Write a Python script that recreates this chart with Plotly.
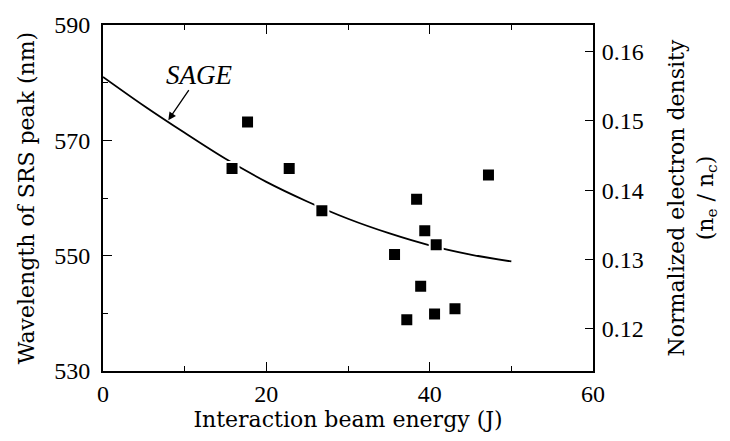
import plotly.graph_objects as go

# Measured data: interaction beam energy (J) vs SRS peak wavelength (nm)
energy_J = [15.8, 17.7, 22.8, 26.8, 35.7, 37.2, 38.4, 38.9, 39.4, 40.6, 40.8, 43.1, 47.2]
wavelength_nm = [565.1, 573.2, 565.1, 557.8, 550.2, 538.9, 559.8, 544.7, 554.3, 539.9, 551.9, 540.8, 564.0]

# SAGE simulation curve
sage_energy = [0, 5, 10, 15, 20, 25, 30, 35, 40, 45, 50]
sage_wavelength = [581.0, 576.0, 571.3, 566.8, 562.8, 559.4, 556.4, 553.9, 551.8, 550.2, 549.0]

# Axis ranges / ticks
x_range = [0, 60]
y_range = [530, 590]
density_range = [0.11386, 0.16386]
density_ticks = [0.12, 0.13, 0.14, 0.15, 0.16]

TICKFONT = "Liberation Serif"
TITLEFONT = "DejaVu Serif"

fig = go.Figure()
fig.add_trace(go.Scatter(
    x=sage_energy, y=sage_wavelength, mode="lines",
    line=dict(color="black", width=1.8, shape="spline"),
    showlegend=False, hoverinfo="skip"))
fig.add_trace(go.Scatter(
    x=energy_J, y=wavelength_nm, mode="markers",
    marker=dict(symbol="square", size=13, color="black",
                line=dict(color="white", width=2)),
    showlegend=False))
# secondary (density) axis carrier
fig.add_trace(go.Scatter(x=[None], y=[None], yaxis="y2", mode="markers",
                         showlegend=False, hoverinfo="skip"))

# SAGE label with arrow pointing to the curve
fig.add_annotation(
    x=8.0, y=573.5, ax=11.8, ay=581.4,
    xref="x", yref="y", axref="x", ayref="y",
    showarrow=True, arrowhead=2, arrowsize=1.2, arrowwidth=1.3, arrowcolor="black",
    text="<i>SAGE</i>", standoff=0, borderpad=0,
    font=dict(family=TICKFONT, size=27, color="black"))

fig.update_layout(
    width=730, height=441,
    margin=dict(l=103, r=137, t=21, b=70),
    paper_bgcolor="white", plot_bgcolor="white",
    font=dict(family=TICKFONT, size=24, color="black"),
    xaxis=dict(
        range=x_range, dtick=20, tick0=0,
        showline=True, linecolor="black", linewidth=1.7, mirror="ticks",
        ticks="inside", ticklen=9, tickwidth=1.4, tickcolor="black",
        minor=dict(dtick=10, ticks="inside", ticklen=5, tickwidth=1.4, tickcolor="black"),
        showgrid=False, zeroline=False,
        tickfont=dict(family=TICKFONT, size=24),
        title=dict(text="Interaction beam energy (J)", font=dict(family=TITLEFONT, size=22), standoff=6),
    ),
    yaxis=dict(
        range=y_range, dtick=20, tick0=530,
        showline=True, linecolor="black", linewidth=1.7,
        ticks="inside", ticklen=9, tickwidth=1.4, tickcolor="black",
        minor=dict(dtick=10, ticks="inside", ticklen=5, tickwidth=1.4, tickcolor="black"),
        showgrid=False, zeroline=False,
        tickfont=dict(family=TICKFONT, size=24),
        ticklabelstandoff=6,
        title=dict(text="Wavelength of SRS peak (nm)", font=dict(family=TITLEFONT, size=22), standoff=14),
    ),
    yaxis2=dict(
        range=density_range, tickvals=density_ticks, ticktext=[f"{v:.2f}" for v in density_ticks],
        overlaying="y", side="right", anchor="x",
        showline=True, linecolor="black", linewidth=1.7,
        ticks="inside", ticklen=8, tickwidth=1.4, tickcolor="black",
        showgrid=False, zeroline=False,
        tickfont=dict(family=TICKFONT, size=24),
        ticklabelstandoff=2,
        title=dict(text="Normalized electron density<br>(n<sub>e</sub> / n<sub>c</sub>)",
                   font=dict(family=TITLEFONT, size=22), standoff=26),
    ),
)

fig.write_html("out.html")
